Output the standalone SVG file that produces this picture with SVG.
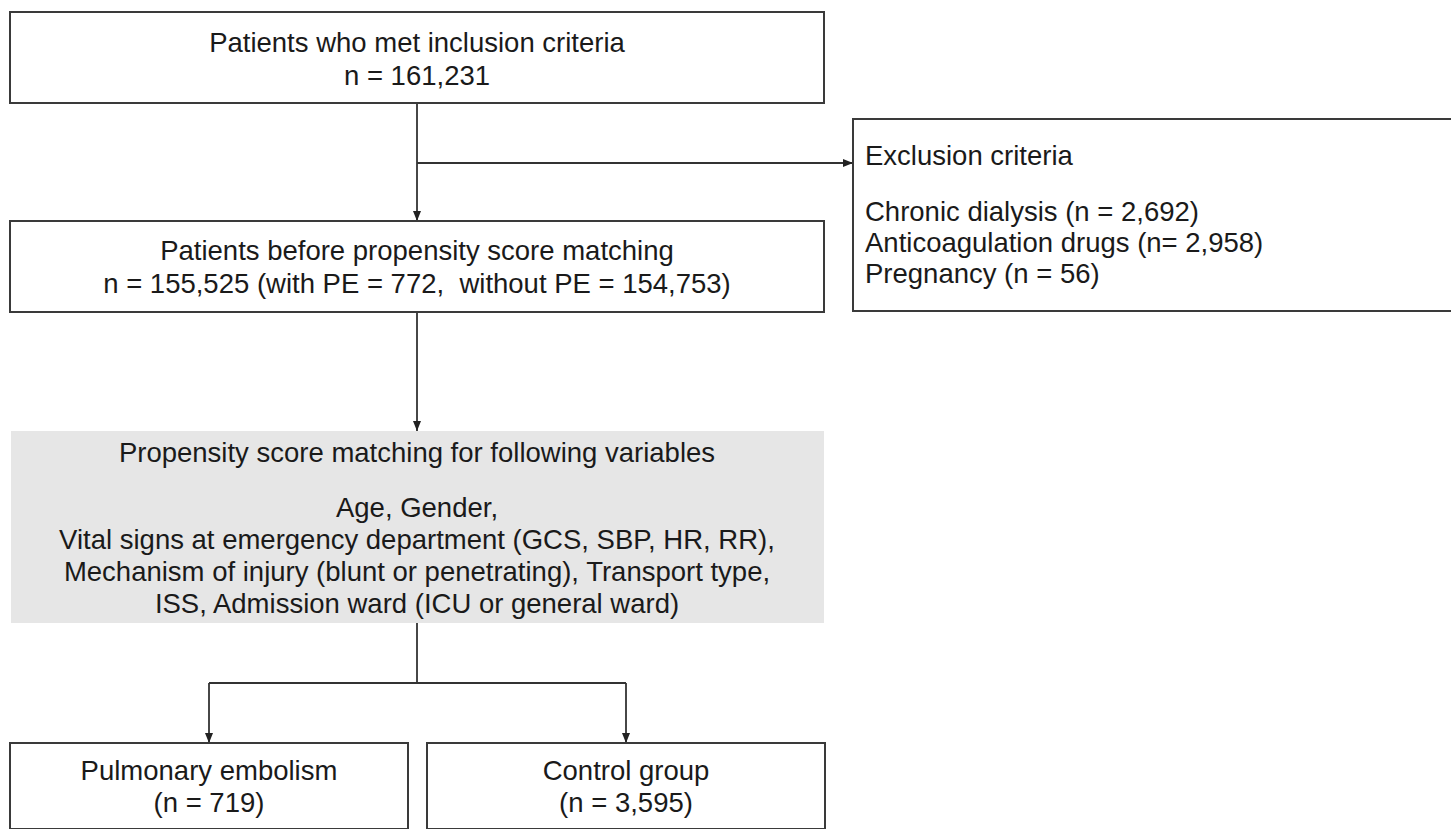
<svg xmlns="http://www.w3.org/2000/svg" width="1451" height="829" viewBox="0 0 1451 829">
<defs>
<style>
.box{fill:#ffffff;stroke:#3a3a3a;stroke-width:2}
.gbox{fill:#e6e6e6;stroke:none}
.t{font-family:"Liberation Sans",Arial,sans-serif;font-size:27.5px;fill:#1a1a1a}
.c{text-anchor:middle}
.ln{fill:none;stroke:#333333;stroke-width:1.8}
</style>
<marker id="ah" viewBox="0 0 10 10" refX="10" refY="5" markerWidth="10" markerHeight="10" markerUnits="userSpaceOnUse" orient="auto">
<path d="M0,1 L10,5 L0,9 Z" fill="#222222"/>
</marker>
</defs>
<rect width="1451" height="829" fill="#ffffff"/>
<g id="connectors">
<line class="ln" x1="417" y1="103" x2="417" y2="221" marker-end="url(#ah)"/>
<line class="ln" x1="417" y1="163" x2="853" y2="163" marker-end="url(#ah)"/>
<line class="ln" x1="417" y1="312" x2="417" y2="431" marker-end="url(#ah)"/>
<polyline class="ln" points="417,623 417,683"/>
<polyline class="ln" points="209,683 626,683"/>
<line class="ln" x1="209" y1="683" x2="209" y2="743" marker-end="url(#ah)"/>
<line class="ln" x1="626" y1="683" x2="626" y2="743" marker-end="url(#ah)"/>
</g>
<g id="inclusion">
<rect class="box" x="10" y="12" width="814" height="91"/>
<text class="t c" x="417" y="52">Patients who met inclusion criteria</text>
<text class="t c" x="417" y="85">n = 161,231</text>
</g>
<g id="exclusion">
<rect class="box" x="853" y="119" width="610" height="192"/>
<text class="t" x="865" y="165">Exclusion criteria</text>
<text class="t" x="865" y="221">Chronic dialysis (n = 2,692)</text>
<text class="t" x="865" y="252">Anticoagulation drugs (n= 2,958)</text>
<text class="t" x="865" y="283">Pregnancy (n = 56)</text>
</g>
<g id="before-psm">
<rect class="box" x="10" y="221" width="814" height="91"/>
<text class="t c" x="417" y="260">Patients before propensity score matching</text>
<text class="t c" x="417" y="293" xml:space="preserve">n = 155,525 (with PE = 772,  without PE = 154,753)</text>
</g>
<g id="psm">
<rect class="gbox" x="11" y="431" width="813" height="192"/>
<text class="t c" x="417" y="462">Propensity score matching for following variables</text>
<text class="t c" x="417" y="517">Age, Gender,</text>
<text class="t c" x="417" y="549">Vital signs at emergency department (GCS, SBP, HR, RR),</text>
<text class="t c" x="417" y="581">Mechanism of injury (blunt or penetrating), Transport type,</text>
<text class="t c" x="417" y="613">ISS, Admission ward (ICU or general ward)</text>
</g>
<g id="pe">
<rect class="box" x="10" y="743" width="398" height="86"/>
<text class="t c" x="209" y="780">Pulmonary embolism</text>
<text class="t c" x="209" y="812">(n = 719)</text>
</g>
<g id="control">
<rect class="box" x="427" y="743" width="398" height="86"/>
<text class="t c" x="626" y="780">Control group</text>
<text class="t c" x="626" y="812">(n = 3,595)</text>
</g>
</svg>
